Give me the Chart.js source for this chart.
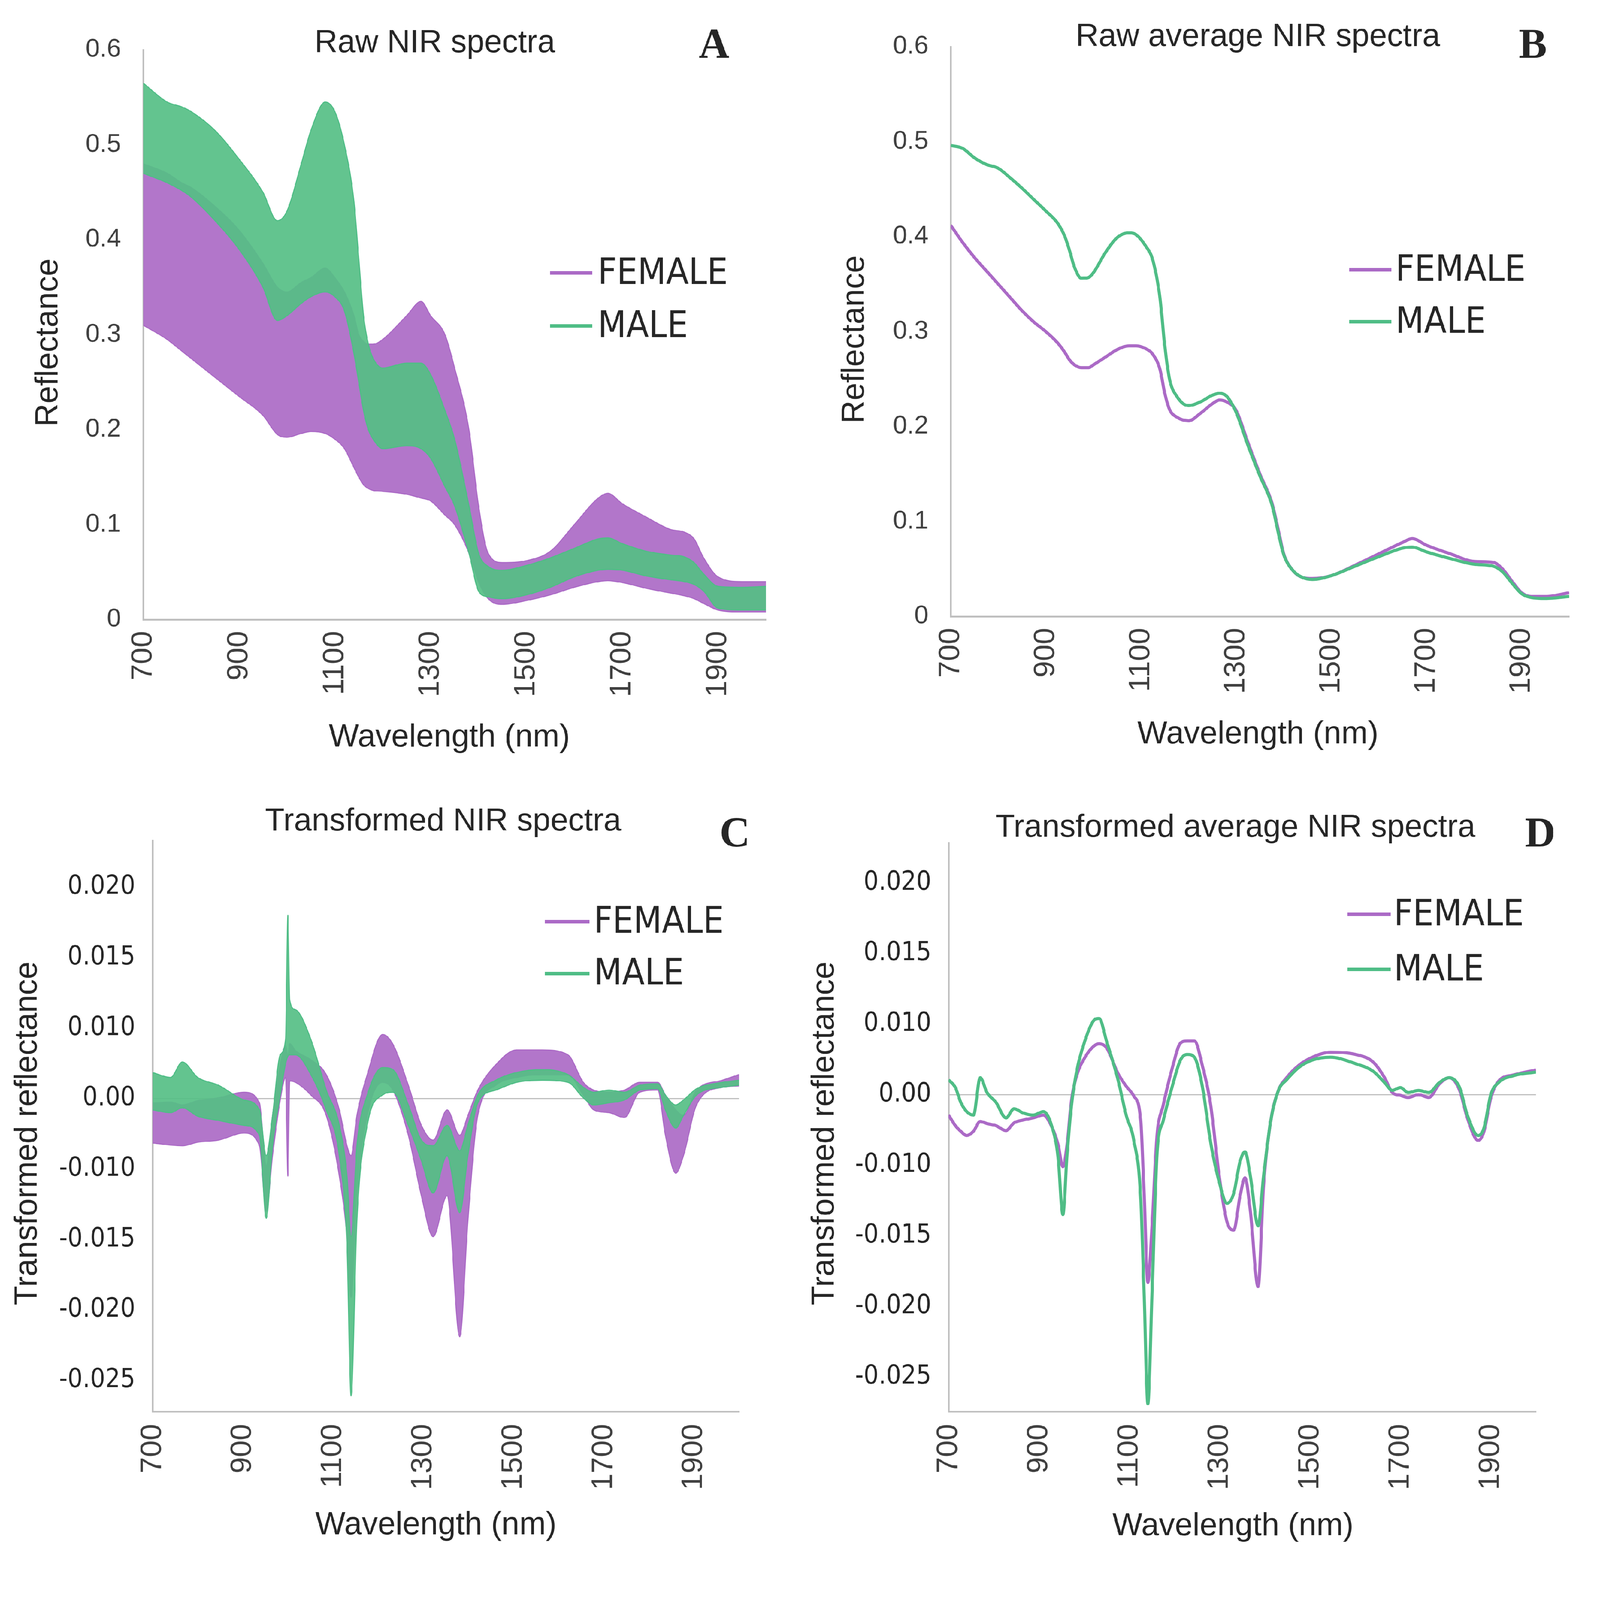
<!DOCTYPE html>
<html>
<head>
<meta charset="utf-8">
<script src="https://cdn.jsdelivr.net/npm/chart.js@4.4.0/dist/chart.umd.min.js"></script>
<style>
  html, body { margin: 0; padding: 0; background: #fff; overflow: hidden; }
  #page { width: 4625px; height: 4501px; position: relative; transform-origin: 0 0; background: #fff; }
  canvas { position: absolute; }
</style>
</head>
<body>
<div id="page">
<canvas id="panelA" style="left:0px;top:0px;width:2312px;height:2250px"></canvas>
<canvas id="panelB" style="left:2312px;top:0px;width:2313px;height:2250px"></canvas>
<canvas id="panelC" style="left:0px;top:2250px;width:2312px;height:2251px"></canvas>
<canvas id="panelD" style="left:2312px;top:2250px;width:2313px;height:2251px"></canvas>
</div>
<script>
// ---- data ----
const seriesNames = ['FEMALE', 'MALE'];
const xTicks = [700, 900, 1100, 1300, 1500, 1700, 1900];
const yTicksRaw = [0, 0.1, 0.2, 0.3, 0.4, 0.5, 0.6];
const yTickLabelsRaw = ['0', '0.1', '0.2', '0.3', '0.4', '0.5', '0.6'];
// the transformed panels print these labels at evenly spaced positions
const yTicksT = [-0.025, -0.020, -0.015, -0.010, 0, 0.010, 0.015, 0.020];
const yTickLabelsT = ['-0.025', '-0.020', '-0.015', '-0.010', '0.00', '0.010', '0.015', '0.020'];

// A: raw spectra, spread of the individual curves (low / high edge per group)
const aWave = [700, 750, 780, 800, 850, 900, 950, 980, 1000, 1030, 1050, 1080, 1100, 1120, 1140, 1150, 1160, 1170, 1180, 1200,
  1250, 1280, 1300, 1330, 1350, 1380, 1400, 1420, 1450, 1500, 1550, 1600, 1650, 1670, 1700, 1750, 1800, 1830, 1850, 1870, 1900, 1950, 2000];
const aFemaleHigh = [0.48, 0.47, 0.46, 0.455, 0.435, 0.41, 0.375, 0.35, 0.345, 0.355, 0.36, 0.37, 0.36, 0.345, 0.32, 0.30, 0.293, 0.29, 0.29, 0.295,
  0.32, 0.335, 0.32, 0.30, 0.265, 0.20, 0.12, 0.07, 0.060, 0.062, 0.072, 0.100, 0.128, 0.133, 0.122, 0.108, 0.095, 0.092, 0.085, 0.065, 0.045, 0.040, 0.040];
const aFemaleLow = [0.31, 0.295, 0.283, 0.275, 0.255, 0.235, 0.215, 0.195, 0.192, 0.196, 0.198, 0.196, 0.19, 0.18, 0.16, 0.15, 0.142, 0.138, 0.136, 0.135,
  0.132, 0.128, 0.125, 0.11, 0.10, 0.07, 0.04, 0.022, 0.016, 0.020, 0.026, 0.034, 0.040, 0.041, 0.039, 0.033, 0.028, 0.025, 0.022, 0.017, 0.010, 0.008, 0.008];
const aMaleHigh = [0.565, 0.545, 0.540, 0.535, 0.515, 0.485, 0.45, 0.42, 0.43, 0.48, 0.515, 0.545, 0.535, 0.50, 0.44, 0.38, 0.32, 0.29, 0.275, 0.265,
  0.27, 0.27, 0.258, 0.22, 0.19, 0.12, 0.07, 0.056, 0.052, 0.057, 0.065, 0.075, 0.085, 0.086, 0.080, 0.072, 0.068, 0.066, 0.06, 0.048, 0.035, 0.034, 0.035];
const aMaleLow = [0.47, 0.46, 0.452, 0.445, 0.42, 0.39, 0.35, 0.315, 0.32, 0.333, 0.34, 0.345, 0.34, 0.325, 0.28, 0.25, 0.22, 0.20, 0.19, 0.18,
  0.183, 0.18, 0.17, 0.14, 0.12, 0.07, 0.03, 0.024, 0.022, 0.026, 0.034, 0.045, 0.052, 0.053, 0.052, 0.046, 0.042, 0.040, 0.037, 0.03, 0.012, 0.010, 0.010];

// B: raw average spectra
const bWave = [700, 725, 750, 775, 800, 825, 850, 875, 900, 925, 940, 950, 960, 975, 990, 1000, 1025, 1050, 1075, 1090, 1110, 1125, 1140, 1150,
  1160, 1175, 1200, 1225, 1250, 1265, 1280, 1300, 1325, 1350, 1375, 1390, 1400, 1420, 1440, 1460, 1500, 1550, 1600, 1650, 1670, 1700, 1750,
  1800, 1840, 1860, 1880, 1900, 1920, 1950, 2000];
const bFemale = [0.412, 0.394, 0.378, 0.364, 0.350, 0.336, 0.322, 0.310, 0.300, 0.288, 0.278, 0.270, 0.265, 0.262, 0.262, 0.265, 0.273, 0.281,
  0.285, 0.285, 0.282, 0.276, 0.260, 0.235, 0.218, 0.210, 0.206, 0.214, 0.224, 0.228, 0.226, 0.217, 0.183, 0.150, 0.120, 0.088, 0.066, 0.048,
  0.041, 0.040, 0.043, 0.054, 0.066, 0.078, 0.082, 0.075, 0.066, 0.058, 0.057, 0.050, 0.037, 0.025, 0.021, 0.021, 0.025];
const bMale = [0.496, 0.493, 0.483, 0.476, 0.472, 0.462, 0.451, 0.439, 0.427, 0.414, 0.400, 0.385, 0.368, 0.356, 0.357, 0.362, 0.383, 0.399,
  0.404, 0.402, 0.390, 0.375, 0.335, 0.285, 0.250, 0.232, 0.222, 0.226, 0.233, 0.235, 0.232, 0.215, 0.180, 0.148, 0.118, 0.085, 0.065, 0.048,
  0.041, 0.039, 0.043, 0.053, 0.063, 0.072, 0.073, 0.068, 0.061, 0.055, 0.053, 0.047, 0.035, 0.024, 0.020, 0.019, 0.021];

// C: transformed spectra, spread of the individual curves
const cWave = [700, 740, 766, 800, 846, 903, 937, 952, 966, 983, 995, 1000, 1004, 1017, 1051, 1085, 1114, 1131, 1140, 1153, 1176, 1210, 1233,
  1267, 1296, 1322, 1353, 1381, 1399, 1421, 1461, 1507, 1564, 1621, 1655, 1678, 1712, 1746, 1780, 1820, 1837, 1860, 1877, 1906, 1963, 2000];
const cFemaleHigh = [-0.0006, -0.0005, -0.0009, -0.0003, 0.0001, 0.0009, -0.0006, -0.0095, -0.0024, 0.0048, 0.0075, 0.0060, 0.0078, 0.0068,
  0.0055, 0.0034, -0.0016, -0.0067, -0.0081, -0.0024, 0.0034, 0.0091, 0.0077, 0.0019, -0.0038, -0.0059, -0.0016, -0.0052, -0.0024, 0.0012,
  0.0048, 0.0069, 0.0069, 0.0062, 0.0023, 0.0012, 0.0009, 0.0012, 0.0023, 0.0023, 0.0005, -0.0016, -0.0024, 0.0012, 0.0026, 0.0034];
const cFemaleLow = [-0.0063, -0.0066, -0.0067, -0.0062, -0.0059, -0.0049, -0.0067, -0.0130, -0.0081, -0.0002, 0.0030, -0.0105, 0.0025, 0.0023,
  0.0005, -0.0024, -0.0105, -0.0148, -0.0191, -0.0119, -0.0024, 0.0023, 0.0012, -0.0052, -0.0119, -0.0148, -0.0119, -0.0219, -0.0137, -0.0024,
  0.0019, 0.0030, 0.0034, 0.0034, 0.0005, -0.0016, -0.0020, -0.0027, 0.0009, 0.0012, -0.0052, -0.0103, -0.0081, -0.0009, 0.0016, 0.0018];
const cMaleHigh = [0.0037, 0.0030, 0.0052, 0.0030, 0.0019, -0.0002, -0.0016, -0.0081, -0.0024, 0.0062, 0.0085, 0.0180, 0.0120, 0.0113,
  0.0084, 0.0012, -0.0038, -0.0105, -0.0148, -0.0067, 0.0005, 0.0044, 0.0041, -0.0009, -0.0059, -0.0067, -0.0038, -0.0074, -0.0038, 0.0005,
  0.0026, 0.0037, 0.0041, 0.0034, 0.0016, 0.0009, 0.0012, 0.0009, 0.0019, 0.0021, 0.0005, -0.0009, -0.0002, 0.0014, 0.0023, 0.0026];
const cMaleLow = [-0.0016, -0.0020, -0.0013, -0.0025, -0.0031, -0.0038, -0.0052, -0.0135, -0.0067, 0.0005, 0.0050, 0.0060, 0.0062, 0.0062,
  0.0034, -0.0016, -0.0081, -0.0155, -0.0261, -0.0137, -0.0038, 0.0005, 0.0009, -0.0038, -0.0088, -0.0117, -0.0081, -0.0131, -0.0081, -0.0006,
  0.0012, 0.0023, 0.0026, 0.0023, 0.0001, -0.0009, -0.0006, -0.0002, 0.0012, 0.0014, -0.0016, -0.0042, -0.0024, 0.0005, 0.0016, 0.0019];

// D: transformed average spectra
const dWave = [700, 715, 727, 740, 755, 770, 785, 805, 827, 845, 865, 887, 910, 928, 942, 953, 962, 972, 984, 1001, 1020, 1033, 1050, 1075,
  1093, 1110, 1125, 1133, 1141, 1150, 1161, 1175, 1196, 1213, 1228, 1244, 1262, 1280, 1299, 1316, 1331, 1345, 1356, 1368, 1385, 1397, 1413,
  1430, 1448, 1476, 1505, 1545, 1600, 1640, 1665, 1682, 1700, 1717, 1740, 1763, 1786, 1808, 1831, 1848, 1872, 1885, 1900, 1917, 1951, 2000];
const dFemale = [-0.0029, -0.0044, -0.0052, -0.0058, -0.0052, -0.0038, -0.0041, -0.0044, -0.0051, -0.0040, -0.0036, -0.0033, -0.0029, -0.0045,
  -0.0070, -0.0101, -0.0072, -0.0008, 0.0028, 0.0052, 0.0068, 0.0072, 0.0066, 0.0030, 0.0012, -0.0002, -0.0035, -0.0122, -0.0183, -0.0145,
  -0.0060, -0.0015, 0.0040, 0.0073, 0.0076, 0.0076, 0.0040, -0.0015, -0.0108, -0.0140, -0.0146, -0.0122, -0.0109, -0.0133, -0.0186, -0.0115,
  -0.0037, 0.0006, 0.0024, 0.0042, 0.0053, 0.0060, 0.0057, 0.0046, 0.0024, 0.0003, -0.0001, -0.0004, 0.0000, -0.0004, 0.0015, 0.0024, 0.0006,
  -0.0033, -0.0065, -0.0052, -0.0005, 0.0019, 0.0028, 0.0035];
const dMale = [0.0021, 0.0010, -0.0011, -0.0024, -0.0029, 0.0024, 0.0003, -0.0011, -0.0033, -0.0020, -0.0026, -0.0029, -0.0024, -0.0044,
  -0.0087, -0.0135, -0.0087, -0.0015, 0.0035, 0.0075, 0.0102, 0.0104, 0.0075, 0.0021, -0.0029, -0.0065, -0.0122, -0.0194, -0.0269, -0.0194,
  -0.0087, -0.0037, 0.0014, 0.0049, 0.0057, 0.0053, 0.0010, -0.0068, -0.0112, -0.0127, -0.0120, -0.0095, -0.0081, -0.0108, -0.0143, -0.0108,
  -0.0037, 0.0006, 0.0021, 0.0039, 0.0049, 0.0053, 0.0044, 0.0033, 0.0017, 0.0006, 0.0010, 0.0003, 0.0006, 0.0003, 0.0017, 0.0024, 0.0010,
  -0.0029, -0.0058, -0.0047, 0.0000, 0.0017, 0.0027, 0.0032];

// ---- styles ----
const FEMALE_COLOR = '#ab6ac6';
const MALE_COLOR = '#4fbd86';
const FEMALE_FILL = 'rgba(171, 106, 198, 0.92)';
const MALE_FILL = 'rgba(86, 191, 134, 0.92)';
const AXIS_COLOR = '#bfbfbf';
const TEXT_COLOR = '#262626';
const TICK_COLOR = '#404040';
const SANS = '"Liberation Sans", Arial, sans-serif';
const NARROW = '"DejaVu Sans Condensed", "Liberation Sans Narrow", sans-serif';

// the page is laid out at 4625 px wide; fit it to whatever the viewport really is
const page = document.getElementById('page');
const fit = Math.min(window.innerWidth / 4625, window.innerHeight / 4501);
page.style.transform = 'scale(' + fit + ')';

// the transformed axes are evenly spaced per printed label, so map label values to label steps
function toSteps(v) {
    if (v >= 0.010) return 1 + (v - 0.010) / 0.005;
    if (v <= -0.010) return -1 + (v + 0.010) / 0.005;
    return v / 0.010;
}
class SteppedScale extends Chart.LinearScale {
    buildTicks() {
        return yTicksT.map(v => ({ value: v }));
    }
    getPixelForValue(value) {
        return super.getPixelForValue(toSteps(value));
    }
}
SteppedScale.id = 'stepped';
SteppedScale.defaults = Chart.LinearScale.defaults;
Chart.register(SteppedScale);

function points(xs, ys) {
    return xs.map((x, i) => ({ x: x, y: ys[i] }));
}

function lineSet(label, xs, ys, color) {
    return {
        label: label,
        data: points(xs, ys),
        borderColor: color,
        borderWidth: 9,
        pointRadius: 0,
        fill: false,
        cubicInterpolationMode: 'monotone'
    };
}

function bandSets(label, xs, low, high, color, fillColor) {
    return [
        { label: label + ' low', data: points(xs, low), borderColor: color, borderWidth: 3, pointRadius: 0, fill: false, cubicInterpolationMode: 'monotone' },
        { label: label, data: points(xs, high), borderColor: color, borderWidth: 3, pointRadius: 0, fill: '-1', backgroundColor: fillColor, cubicInterpolationMode: 'monotone' }
    ];
}

function panelText(p) {
    return {
        id: 'panelText',
        afterDraw(chart) {
            const ctx = chart.ctx;
            ctx.save();
            ctx.fillStyle = TEXT_COLOR;
            ctx.textAlign = 'center';
            ctx.textBaseline = 'middle';
            ctx.font = '92px ' + SANS;
            ctx.fillText(p.title, p.titleX, p.titleY);
            ctx.fillText('Wavelength (nm)', p.xTitleX, p.xTitleY);
            ctx.save();
            ctx.translate(p.yTitleX, p.yTitleY);
            ctx.rotate(-Math.PI / 2);
            ctx.fillText(p.yTitle, 0, 0);
            ctx.restore();
            ctx.font = 'bold 122px "Liberation Serif", "Times New Roman", serif';
            ctx.fillText(p.letter, p.letterX, p.letterY);
            ctx.font = '106px ' + NARROW;
            ctx.textAlign = 'left';
            [FEMALE_COLOR, MALE_COLOR].forEach((color, i) => {
                const y = i === 0 ? p.femaleY : p.maleY;
                ctx.strokeStyle = color;
                ctx.lineWidth = 10;
                ctx.beginPath();
                ctx.moveTo(p.legendX0, y);
                ctx.lineTo(p.legendX1, y);
                ctx.stroke();
                ctx.fillText(seriesNames[i], p.legendTextX, y + 4);
            });
            ctx.restore();
        }
    };
}

function makeChart(id, p, datasets, yScale) {
    const canvas = document.getElementById(id);
    canvas.width = parseInt(canvas.style.width, 10);
    canvas.height = parseInt(canvas.style.height, 10);
    new Chart(canvas, {
        type: 'line',
        data: { datasets: datasets },
        options: {
            responsive: false,
            animation: false,
            events: [],
            layout: { padding: { left: 0, top: p.padTop, right: p.padRight, bottom: 0 } },
            plugins: { legend: { display: false }, tooltip: { enabled: false } },
            scales: {
                x: {
                    type: 'linear',
                    min: 700,
                    max: 2000,
                    afterBuildTicks: s => { s.ticks = xTicks.map(v => ({ value: v })); },
                    afterFit: s => { s.height = p.xHeight; },
                    grid: { display: false, drawTicks: false },
                    border: { display: true, color: AXIS_COLOR, width: 5 },
                    ticks: {
                        autoSkip: false, minRotation: 90, maxRotation: 90, padding: p.xPad,
                        color: TICK_COLOR, font: { family: SANS, size: 86 },
                        callback: v => String(v)
                    }
                },
                y: Object.assign({
                    afterFit: s => { s.width = p.yWidth; },
                    border: { display: true, color: AXIS_COLOR, width: 5 }
                }, yScale)
            }
        },
        plugins: [panelText(p)]
    });
}

const rawY = {
    type: 'linear',
    min: 0,
    max: 0.6,
    afterBuildTicks: s => { s.ticks = yTicksRaw.map(v => ({ value: v })); },
    grid: { display: false, drawTicks: false },
    ticks: { autoSkip: false, padding: 64, color: TICK_COLOR, font: { family: SANS, size: 74 },
             callback: (v, i) => yTickLabelsRaw[i] }
};

function transformedY(min, max) {
    return {
        type: 'stepped',
        min: min,
        max: max,
        grid: { drawTicks: false, lineWidth: 3, color: c => (c.tick && c.tick.value === 0 ? AXIS_COLOR : 'rgba(0,0,0,0)') },
        ticks: { autoSkip: false, padding: 50, color: TEXT_COLOR, font: { family: NARROW, size: 76 },
                 callback: (v, i) => yTickLabelsT[i] }
    };
}

// males come first so their curves are painted over the females
makeChart('panelA', {
    padTop: 144, padRight: 98, yWidth: 414, xHeight: 459, xPad: 33,
    title: 'Raw NIR spectra', titleX: 1257, titleY: 126, letter: 'A', letterX: 2064, letterY: 135,
    xTitleX: 1299, xTitleY: 2133, yTitle: 'Reflectance', yTitleX: 141, yTitleY: 990,
    legendX0: 1590, legendX1: 1712, legendTextX: 1728, femaleY: 789, maleY: 942
}, bandSets('MALE', aWave, aMaleLow, aMaleHigh, MALE_COLOR, MALE_FILL)
    .concat(bandSets('FEMALE', aWave, aFemaleLow, aFemaleHigh, FEMALE_COLOR, FEMALE_FILL)), rawY);

makeChart('panelB', {
    padTop: 135, padRight: 89, yWidth: 436, xHeight: 468, xPad: 33,
    title: 'Raw average NIR spectra', titleX: 1324, titleY: 108, letter: 'B', letterX: 2119, letterY: 135,
    xTitleX: 1324, xTitleY: 2124, yTitle: 'Reflectance', yTitleX: 160, yTitleY: 981,
    legendX0: 1588, legendX1: 1710, legendTextX: 1722, femaleY: 780, maleY: 930
}, [lineSet('MALE', bWave, bMale, MALE_COLOR), lineSet('FEMALE', bWave, bFemale, FEMALE_COLOR)], rawY);

makeChart('panelC', {
    padTop: 180, padRight: 176, yWidth: 441, xHeight: 421, xPad: 36,
    title: 'Transformed NIR spectra', titleX: 1281, titleY: 126, letter: 'C', letterX: 2124, letterY: 165,
    xTitleX: 1260, xTitleY: 2160, yTitle: 'Transformed reflectance', yTitleX: 81, yTitleY: 1026,
    legendX0: 1575, legendX1: 1704, legendTextX: 1716, femaleY: 414, maleY: 564
}, bandSets('MALE', cWave, cMaleLow, cMaleHigh, MALE_COLOR, MALE_FILL)
    .concat(bandSets('FEMALE', cWave, cFemaleLow, cFemaleHigh, FEMALE_COLOR, FEMALE_FILL)), transformedY(-4.44, 3.66));

makeChart('panelD', {
    padTop: 186, padRight: 185, yWidth: 430, xHeight: 421, xPad: 36,
    title: 'Transformed average NIR spectra', titleX: 1259, titleY: 144, letter: 'D', letterX: 2140, letterY: 165,
    xTitleX: 1252, xTitleY: 2163, yTitle: 'Transformed reflectance', yTitleX: 73, yTitleY: 1026,
    legendX0: 1582, legendX1: 1708, legendTextX: 1717, femaleY: 393, maleY: 552
}, [lineSet('MALE', dWave, dMale, MALE_COLOR), lineSet('FEMALE', dWave, dFemale, FEMALE_COLOR)], transformedY(-4.49, 3.57));
</script>
</body>
</html>
